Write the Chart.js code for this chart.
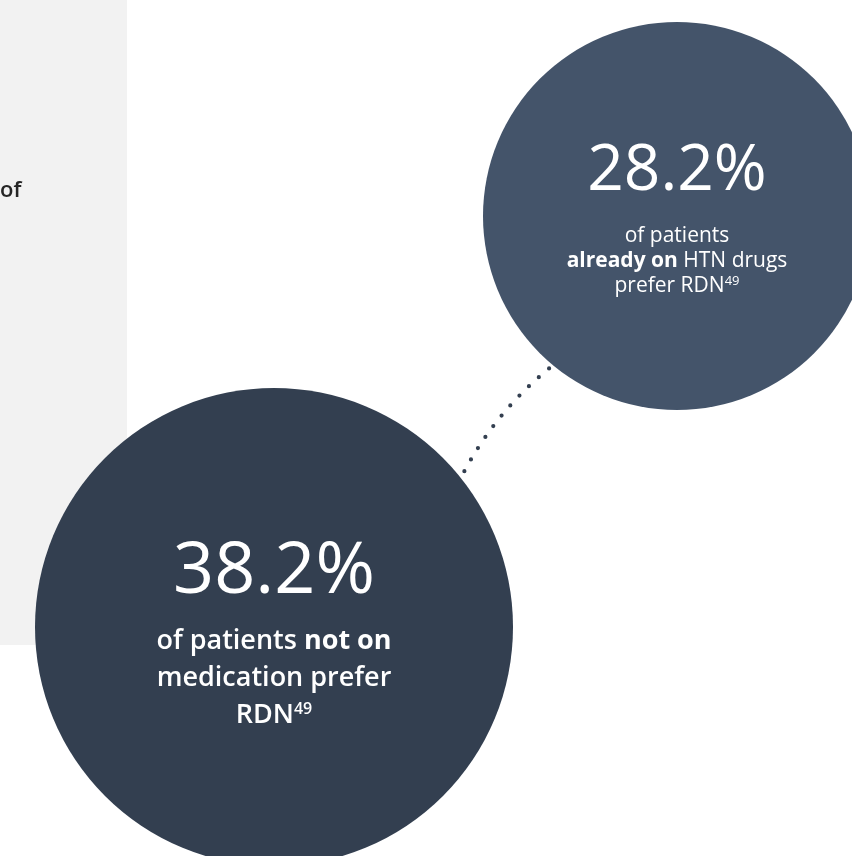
<!DOCTYPE html>
<html>
<head>
<meta charset="utf-8">
<script src="https://cdn.jsdelivr.net/npm/chart.js@4.4.1/dist/chart.umd.min.js"></script>
<style>
  html, body { margin: 0; padding: 0; background: #ffffff; }
  #wrap { width: 852px; height: 856px; position: relative; }
</style>
</head>
<body>
<div id="wrap"><canvas id="chart" width="852" height="856"></canvas></div>
<script>
// data
const categories = ["not on medication", "already on HTN drugs"];
const shares = [38.2, 28.2];            // % of patients preferring RDN
const refNote = "49";

// caption text, one array of runs per line
const captions = [
  [
    [{ t: "of patients " }, { t: "not on", b: true }],
    [{ t: "medication prefer" }],
    [{ t: "RDN" }, { t: refNote, sup: true }]
  ],
  [
    [{ t: "of patients" }],
    [{ t: "already on ", b: true }, { t: "HTN drugs" }],
    [{ t: "prefer RDN" }, { t: refNote, sup: true }]
  ]
];

// layout of the bubbles on a 852 x 856 pixel grid
const layout = {
  x: [274, 677],
  y: [627, 216],
  r: [239, 194],
  colors: ["#333f50", "#44546a"],
  pctSize: [72, 64],
  pctDy: [-34, -26],
  capSize: [27, 21],
  capWeight: [600, 400],
  capDy: [22, 26],
  capGap: [37, 25]
};

const FONT = '"Open Sans", "Noto Sans", sans-serif';

// grey side panel behind everything
const panelPlugin = {
  id: "panel",
  beforeDraw(chart) {
    const { ctx, scales: { x, y } } = chart;
    ctx.save();
    ctx.fillStyle = "#f2f2f2";
    ctx.fillRect(x.getPixelForValue(0), y.getPixelForValue(0),
      x.getPixelForValue(127) - x.getPixelForValue(0),
      y.getPixelForValue(645) - y.getPixelForValue(0));
    ctx.fillStyle = "#262626";
    ctx.font = "600 22px " + FONT;
    ctx.textBaseline = "alphabetic";
    ctx.fillText("of", x.getPixelForValue(0), y.getPixelForValue(197));
    ctx.restore();
  }
};

// dotted connector between the two bubbles
const connectorPlugin = {
  id: "connector",
  beforeDatasetsDraw(chart) {
    const pts = chart.getDatasetMeta(0).data;
    if (pts.length < 2) return;
    const a = pts[0], b = pts[1];
    const ra = a.options.radius + 4, rb = b.options.radius + 5;
    const angA = -39 * Math.PI / 180, angB = 130 * Math.PI / 180;
    const x1 = a.x + ra * Math.cos(angA), y1 = a.y + ra * Math.sin(angA);
    const x2 = b.x + rb * Math.cos(angB), y2 = b.y + rb * Math.sin(angB);
    const mx = (x1 + x2) / 2, my = (y1 + y2) / 2;
    const len = Math.hypot(x2 - x1, y2 - y1);
    const nx = -(y2 - y1) / len, ny = (x2 - x1) / len;
    const bow = -14;
    const ctx = chart.ctx;
    ctx.save();
    ctx.strokeStyle = "#333f50";
    ctx.lineWidth = 4.2;
    ctx.lineCap = "round";
    ctx.setLineDash([0, 13.4]);
    ctx.beginPath();
    ctx.moveTo(x2, y2);
    ctx.quadraticCurveTo(mx + nx * bow, my + ny * bow, x1, y1);
    ctx.stroke();
    ctx.restore();
  }
};

function drawRuns(ctx, runs, cx, baseY, size, weight) {
  const parts = runs.map(r => {
    const s = r.sup ? Math.round(size * 0.6) : size;
    const w = r.b ? 700 : weight;
    const font = w + " " + s + "px " + FONT;
    ctx.font = font;
    return { r, font, width: ctx.measureText(r.t).width, dy: r.sup ? -size * 0.33 : 0 };
  });
  const total = parts.reduce((s, p) => s + p.width, 0);
  let x = cx - total / 2;
  parts.forEach(p => {
    ctx.font = p.font;
    ctx.fillText(p.r.t, x, baseY + p.dy);
    x += p.width;
  });
}

// percentage and caption inside each bubble
const labelPlugin = {
  id: "bubbleLabels",
  afterDatasetsDraw(chart) {
    const ctx = chart.ctx;
    const pts = chart.getDatasetMeta(0).data;
    ctx.save();
    ctx.fillStyle = "#ffffff";
    ctx.textBaseline = "alphabetic";
    pts.forEach((el, i) => {
      ctx.textAlign = "center";
      ctx.font = "400 " + layout.pctSize[i] + "px " + FONT;
      ctx.fillText(shares[i].toFixed(1) + "%", el.x, el.y + layout.pctDy[i]);
      ctx.textAlign = "left";
      captions[i].forEach((line, j) => {
        drawRuns(ctx, line, el.x, el.y + layout.capDy[i] + j * layout.capGap[i],
          layout.capSize[i], layout.capWeight[i]);
      });
    });
    ctx.restore();
  }
};

new Chart(document.getElementById("chart"), {
  type: "bubble",
  data: {
    labels: categories,
    datasets: [{
      label: "Patients preferring RDN",
      data: shares.map((v, i) => ({ x: layout.x[i], y: layout.y[i], r: layout.r[i], v })),
      backgroundColor: layout.colors,
      borderWidth: 0,
      hoverBorderWidth: 0,
      clip: false
    }]
  },
  options: {
    responsive: false,
    animation: false,
    events: [],
    layout: { padding: 0, autoPadding: false },
    scales: {
      x: { type: "linear", min: 0, max: 852, display: false },
      y: { type: "linear", min: 0, max: 856, reverse: true, display: false }
    },
    plugins: {
      legend: { display: false },
      tooltip: { enabled: false }
    }
  },
  plugins: [panelPlugin, connectorPlugin, labelPlugin]
});
</script>
</body>
</html>
